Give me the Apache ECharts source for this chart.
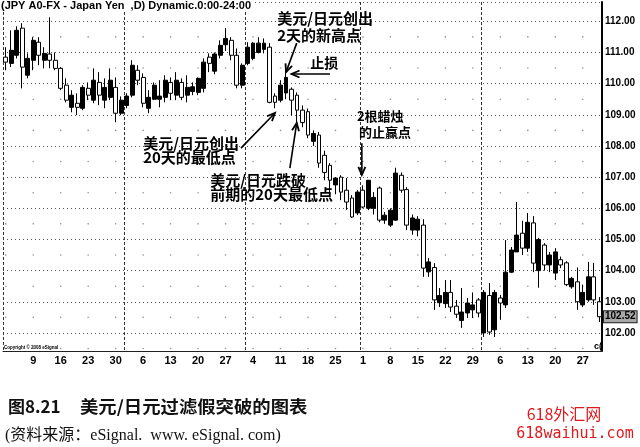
<!DOCTYPE html>
<html><head><meta charset="utf-8">
<script src="https://cdn.jsdelivr.net/npm/echarts@6/dist/echarts.min.js"></script>
<style>html,body{margin:0;padding:0;background:#fff}#c{width:640px;height:447px}</style>
</head><body><div id="c"></div>
<script>
// ---- calendar (trading days) ----
const N = 109;
const monthLengths = [31, 30, 31, 30, 31];
const firstWeekday = 0;   // day 1 of first month = Sunday
const startDay = 2;       // first candle: Monday 2

// ---- candle values (open / close / low / high) ----
const opens = [110.85,110.65,110.91,111.78,110.27,110.75,111.33,110.75,110.95,110.75,
110.49,109.95,109.24,109.37,109.21,109.85,109.47,110.04,109.47,109.56,
109.88,109.05,109.30,109.63,110.43,110.20,109.21,109.50,109.50,109.56,
110.04,109.63,110.04,109.63,109.75,109.72,109.85,110.85,110.40,110.91,
111.25,111.39,110.91,109.95,110.65,110.81,111.00,111.10,111.17,109.60,
109.47,109.70,109.82,109.63,109.15,109.10,108.15,108.35,107.70,107.38,
106.75,107.00,106.58,106.33,105.85,106.58,106.00,106.00,106.65,105.62,
105.46,105.62,107.06,106.60,105.30,105.30,105.46,103.96,104.10,102.97,
102.94,103.30,102.86,102.40,102.64,102.74,103.06,102.00,103.20,102.10,
103.12,102.90,103.95,104.60,105.20,104.72,105.53,104.00,104.82,104.18,
103.92,104.35,104.25,103.48,103.64,102.90,103.06,103.80,103.00];
const closes = [110.69,111.07,111.71,110.53,110.81,111.39,110.91,110.97,110.75,110.49,
109.85,109.47,109.63,109.24,109.88,109.63,110.11,109.63,109.88,110.11,
109.05,109.47,109.60,110.59,110.11,109.37,109.56,109.95,109.60,110.11,
109.69,110.11,109.56,109.88,109.90,110.17,110.69,110.65,110.95,111.23,
111.45,110.91,109.95,110.59,111.17,111.30,111.30,111.30,109.40,109.40,
109.95,110.20,109.47,109.15,108.75,108.35,108.40,107.45,107.15,106.90,
106.97,106.52,106.20,105.72,106.52,106.04,106.90,106.35,105.62,105.78,
105.94,107.13,106.58,105.46,105.69,105.65,104.08,104.28,103.06,103.20,
103.30,102.83,102.60,102.67,102.96,102.90,102.64,103.30,102.03,103.30,
102.96,103.95,104.66,105.14,104.72,105.55,104.24,105.00,104.18,104.50,
104.60,104.18,103.55,103.75,103.00,103.30,103.80,103.06,102.52];
const lows = [110.43,110.53,110.81,109.85,110.17,110.43,110.59,110.49,110.49,110.43,
109.79,109.40,109.08,108.99,109.15,109.47,109.37,109.31,109.21,109.47,
108.76,108.99,109.21,109.56,109.95,109.24,109.05,109.47,109.24,109.40,
109.47,109.47,109.47,109.40,109.63,109.63,109.72,110.37,110.30,110.81,
111.05,110.75,109.85,109.85,110.59,110.75,110.97,110.97,109.37,109.21,
109.40,109.50,108.99,108.70,108.60,108.25,108.00,107.30,106.90,106.35,
106.45,106.26,105.95,105.69,105.78,106.00,105.94,105.80,105.55,105.50,
105.40,105.60,106.50,105.30,105.15,105.10,103.80,103.80,102.74,102.83,
102.80,102.67,102.48,102.16,102.48,102.48,102.50,101.87,101.94,101.87,
102.42,102.80,103.92,104.60,104.50,104.60,103.95,103.45,104.00,103.95,
103.70,104.08,103.50,103.42,102.74,102.83,103.00,102.90,102.35];
const highs = [111.17,111.71,111.84,111.94,110.97,111.49,111.49,111.17,112.13,111.00,
110.53,110.17,109.79,109.69,109.95,110.04,110.49,110.37,110.17,110.49,
110.20,109.59,109.69,110.75,110.59,110.33,109.79,110.04,110.11,110.27,
110.20,110.37,110.17,110.27,110.04,110.20,110.81,110.97,111.00,111.39,
111.78,111.49,111.13,110.65,111.33,111.33,111.49,111.45,111.30,109.69,
110.11,110.53,109.88,109.72,109.30,109.20,108.50,108.45,107.85,107.45,
107.00,107.06,106.97,106.42,106.58,106.74,106.90,106.52,106.70,105.88,
106.00,107.30,107.15,106.68,105.80,105.75,105.65,104.40,104.24,103.44,
103.70,103.70,103.06,103.44,103.12,103.30,103.12,103.38,103.60,103.38,
103.22,104.98,104.76,106.20,105.60,105.85,105.75,105.05,104.88,104.60,
104.72,104.45,104.30,103.80,104.10,103.55,104.28,104.25,103.15];

// ---- axis ----
const yMin = 101.42, yMax = 112.62;
const dotLevels = [101.5,102.5,103.5,104.5,105.5,106.5,107.5,108.5,109.5,110.5,111.5];

// ---- texts ----
const titleText = '(JPY A0-FX - Japan Yen  ,D) Dynamic.0:00-24:00';
const noteTexts = [
  {text: '美元/日元创出', at: [49.4, 112.11], size: 15},
  {text: '2天的新高点', at: [49.4, 111.56], size: 15},
  {text: '止损', at: [55.4, 110.66], size: 14},
  {text: '美元/日元创出', at: [25.0, 108.10], size: 15},
  {text: '20天的最低点', at: [25.0, 107.65], size: 15},
  {text: '美元/日元跌破', at: [37.2, 106.90], size: 15},
  {text: '前期的20天最低点', at: [37.2, 106.46], size: 15},
  {text: '2根蜡烛', at: [63.9, 108.96], size: 13},
  {text: '的止赢点', at: [64.3, 108.45], size: 13}
];
const noteArrows = [
  {from: [52.95, 111.30], to: [51.0, 110.37]},
  {from: [59.0, 110.31], to: [52.0, 110.31]},
  {from: [42.8, 107.93], to: [49.0, 109.06]},
  {from: [51.7, 107.29], to: [52.95, 108.74]},
  {from: [64.8, 108.09], to: [64.8, 107.07]}
];

// build categories
const categories = [], mondayIdx = [], monthStartIdx = [0];
let dow = firstWeekday;
outer: for (let m = 0; m < monthLengths.length; m++) {
  let firstInMonth = true;
  for (let d = 1; d <= monthLengths[m]; d++) {
    const today = dow; dow = (dow + 1) % 7;
    if (m === 0 && d < startDay) continue;
    if (today === 0 || today === 6) continue;
    if (categories.length >= N) break outer;
    if (firstInMonth && categories.length > 0) monthStartIdx.push(categories.length);
    firstInMonth = false;
    if (today === 1) mondayIdx.push(categories.length);
    categories.push((m + 1) + '/' + d);
  }
}
const labelSet = new Set(mondayIdx.filter(i => i > 0)), monthSet = new Set(monthStartIdx);
const candleData = opens.map((o, i) => [o, closes[i], lows[i], highs[i]]);
const dots = [];
mondayIdx.forEach(i => dotLevels.forEach(v => dots.push([i, v])));
const lastClose = closes[closes.length - 1];

const chart = echarts.init(document.getElementById('c'), null, {renderer: 'canvas'});
chart.setOption({
  animation: false,
  backgroundColor: '#fff',
  title: {text: titleText, left: 1, top: 0, padding: [0, 2, 0, 0], backgroundColor: '#fff',
    textStyle: {fontFamily: '"Liberation Sans Narrow","Liberation Sans",Arial', fontWeight: 'bold', fontSize: 11, color: '#000'}},
  grid: {left: 3, right: 38, top: 2, bottom: 96, containLabel: false, outerBoundsMode: 'none'},
  xAxis: {
    type: 'category', data: categories, boundaryGap: true,
    axisLine: {lineStyle: {color: '#222', width: 1}},
    axisTick: {show: false},
    axisLabel: {interval: (i) => labelSet.has(i), formatter: v => v.split('/')[1],
      fontFamily: '"Liberation Sans",Arial', fontWeight: 'bold', fontSize: 11, color: '#000', margin: 4},
    splitLine: {show: true, interval: (i) => monthSet.has(i), lineStyle: {type: [3, 2], color: '#333', width: 1}}
  },
  yAxis: {
    type: 'value', position: 'right', min: yMin, max: yMax, minInterval: 1, maxInterval: 1, splitNumber: 11,
    axisLine: {show: true, lineStyle: {color: '#000', width: 2}},
    axisTick: {show: false},
    axisLabel: {showMinLabel: false, showMaxLabel: false, margin: 3,
      formatter: v => Math.abs(v - Math.round(v)) < 1e-6 ? v.toFixed(2) : '',
      fontFamily: '"Liberation Sans",Arial', fontWeight: 'bold', fontSize: 10, color: '#000'},
    splitLine: {show: true, lineStyle: {type: [1, 3], color: '#555', width: 1}}
  },
  series: [
    {type: 'scatter', data: dots, symbolSize: 1.6, silent: true, z: 1,
      itemStyle: {color: '#777'}},
    {type: 'candlestick', data: candleData, barWidth: 4.4, z: 3,
      itemStyle: {color: '#000', color0: '#fff', borderColor: '#000', borderColor0: '#000', borderWidth: 1},
      markLine: {silent: true, symbol: ['none', 'none'],
        lineStyle: {color: 'rgba(0,0,0,0)', width: 1, type: 'solid'},
        label: {show: true, position: 'end', distance: 2, formatter: lastClose.toFixed(2),
          backgroundColor: '#a8a8a8', borderColor: '#222', borderWidth: 1, padding: [1, 1, 0, 1],
          fontFamily: '"Liberation Sans",Arial', fontWeight: 'bold', fontSize: 10, color: '#000'},
        emphasis: {disabled: true},
        data: [{yAxis: lastClose}]}}
  ]
});

// annotations anchored to data coordinates
const x0 = chart.convertToPixel({gridIndex: 0}, [0, 105])[0];
const x100 = chart.convertToPixel({gridIndex: 0}, [100, 105])[0];
const band = (x100 - x0) / 100;
const P = ([i, v]) => [x0 + i * band, chart.convertToPixel({gridIndex: 0}, [0, v])[1]];
const cjk = '"Noto Sans CJK SC","Noto Sans",sans-serif';
const g = [];
noteTexts.forEach(n => {
  const p = P(n.at);
  g.push({type: 'text', x: p[0], y: p[1], z: 10,
    style: {text: n.text, fill: '#000', font: 'bold ' + n.size + 'px ' + cjk,
      textAlign: 'left', align: 'left', textVerticalAlign: 'middle', verticalAlign: 'middle'}});
});
noteArrows.forEach(a => {
  const s = P(a.from), e = P(a.to);
  const dx = e[0] - s[0], dy = e[1] - s[1], L = Math.hypot(dx, dy);
  const ux = dx / L, uy = dy / L, nx = -uy, ny = ux;
  const hl = 8, hw = 3.5;
  const bx = e[0] - ux * hl, by = e[1] - uy * hl;
  g.push({type: 'line', z: 10, shape: {x1: s[0], y1: s[1], x2: e[0], y2: e[1]},
    style: {stroke: '#000', lineWidth: 1.6}});
  g.push({type: 'polyline', z: 10,
    shape: {points: [[bx + nx * hw, by + ny * hw], e, [bx - nx * hw, by - ny * hw]]},
    style: {stroke: '#000', lineWidth: 1.8, fill: null}});
});
// small chart texts
g.push({type: 'text', x: 4, y: 348, z: 10, style: {text: 'Copyright © 2008 eSignal', fill: '#000',
  font: 'bold 4.5px "Liberation Sans",Arial', textVerticalAlign: 'middle', verticalAlign: 'middle'}});
g.push({type: 'text', x: 594, y: 347, z: 10, style: {text: 'c(', fill: '#000',
  font: 'bold 9px "Liberation Sans",Arial', textVerticalAlign: 'middle', verticalAlign: 'middle'}});
// caption
g.push({type: 'text', x: 8, y: 407, style: {text: '图8.21', fill: '#111',
  font: 'bold 17px ' + cjk, textVerticalAlign: 'middle', verticalAlign: 'middle'}});
g.push({type: 'text', x: 80, y: 407, scaleX: 1.08, style: {text: '美元/日元过滤假突破的图表', fill: '#111',
  font: 'bold 17px ' + cjk, textVerticalAlign: 'middle', verticalAlign: 'middle'}});
g.push({type: 'text', x: 5, y: 436, style: {text: '(资料来源：eSignal.  www. eSignal. com)', fill: '#111',
  font: '16px "Liberation Serif",' + cjk, textVerticalAlign: 'middle', verticalAlign: 'middle'}});
g.push({type: 'text', x: 564, y: 414, style: {text: '618外汇网', fill: '#e0191e',
  font: '16px ' + cjk, textAlign: 'center', align: 'center', textVerticalAlign: 'middle', verticalAlign: 'middle'}});
g.push({type: 'text', x: 575, y: 434, style: {text: '618waihui.com', fill: '#e0191e',
  font: '15px "DejaVu Sans Mono",monospace', textAlign: 'center', align: 'center', textVerticalAlign: 'middle', verticalAlign: 'middle'}});
chart.setOption({graphic: {elements: g}});
</script>
</body></html>
